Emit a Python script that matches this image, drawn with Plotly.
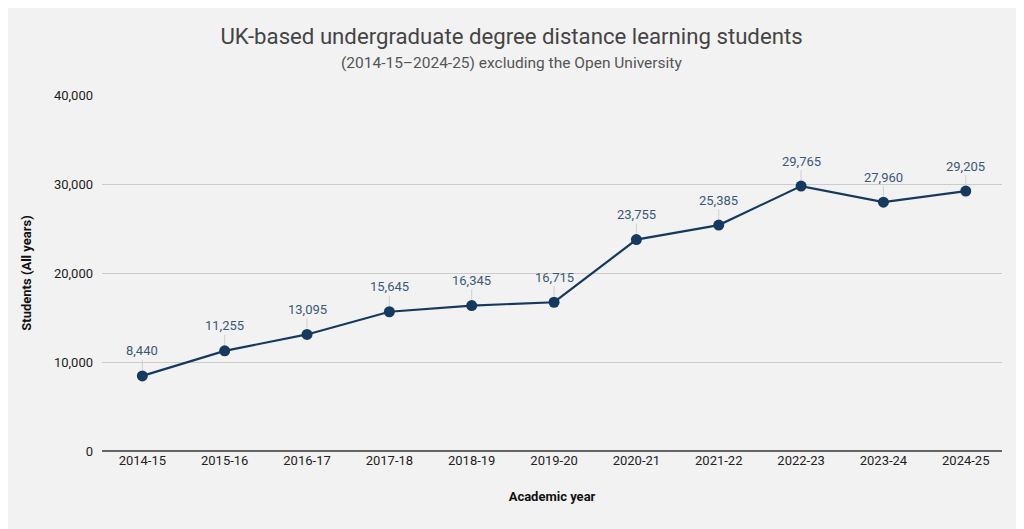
import plotly.graph_objects as go

# Данные
years = ["2014-15", "2015-16", "2016-17", "2017-18", "2018-19", "2019-20",
         "2020-21", "2021-22", "2022-23", "2023-24", "2024-25"]
students = [8440, 11255, 13095, 15645, 16345, 16715, 23755, 25385, 29765, 27960, 29205]
y_ticks = [0, 10000, 20000, 30000, 40000]

line_color = "#163a5f"
label_color = "#3b5878"
bg = "#f2f2f2"

fig = go.Figure()

fig.add_trace(go.Scatter(
    x=years, y=students, mode="lines+markers",
    line=dict(color=line_color, width=2.2),
    marker=dict(color=line_color, size=11),
    hovertemplate="%{x}: %{y:,}<extra></extra>",
    showlegend=False,
))

# Подписи значений с выносками
for yr, val in zip(years, students):
    fig.add_annotation(
        x=yr, y=val, text=f"{val:,}",
        showarrow=True, arrowhead=0, arrowwidth=1, arrowcolor="#d0d0d0",
        ax=0, ay=-25, standoff=6,
        font=dict(family="Roboto", size=13, color=label_color),
    )

# Подзаголовок
fig.add_annotation(
    text="(2014-15–2024-25) excluding the Open University",
    xref="paper", yref="paper", x=0.455, y=1, yshift=32,
    showarrow=False, font=dict(family="Roboto", size=15.5, color="#555555"),
    xanchor="center", yanchor="middle",
)

# страница открывается с отступом body 8px, поэтому поля сдвинуты
fig.update_layout(
    width=1024, height=529,
    paper_bgcolor=bg, plot_bgcolor=bg,
    margin=dict(l=94, r=30, t=87, b=86),
    font=dict(family="Roboto", color="#222222"),
    title=dict(
        text="UK-based undergraduate degree distance learning students",
        x=0.4917, xanchor="center", y=0.947, yanchor="middle",
        font=dict(family="Roboto", size=22.2, color="#444444"),
    ),
    xaxis=dict(
        title=dict(text="<b>Academic year</b>", font=dict(size=13, color="#111111"), standoff=24),
        range=[-0.49, 10.44], showgrid=False, ticks="",
        tickfont=dict(size=13, color="#222222"),
    ),
    yaxis=dict(
        title=dict(text="<b>Students (All years)</b>", font=dict(size=13, color="#111111"), standoff=19),
        range=[0, 40000], tickvals=y_ticks, tickformat=",",
        showgrid=True, gridcolor="#cccccc", gridwidth=1,
        zeroline=True, zerolinecolor="#666666", zerolinewidth=1.5,
        tickfont=dict(size=13, color="#222222"), ticks="", ticklabelstandoff=8,
    ),
)

fig.write_html("out.html")
